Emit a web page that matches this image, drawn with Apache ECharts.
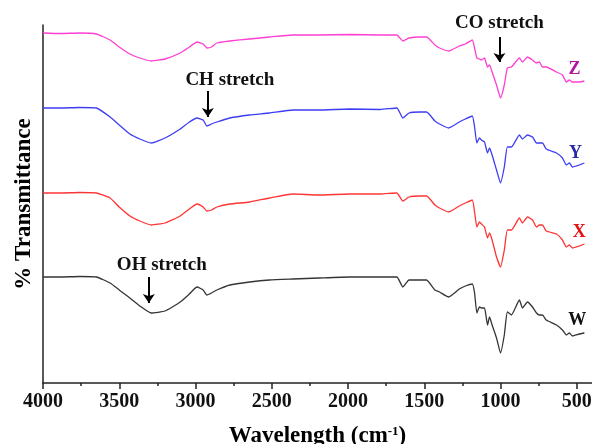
<!DOCTYPE html>
<html>
<head>
<meta charset="utf-8">
<script src="https://cdn.jsdelivr.net/npm/echarts@6/dist/echarts.min.js"></script>
<style>
  html, body { margin: 0; padding: 0; background: #fff; }
  #irChart { width: 592px; height: 444px; }
</style>
</head>
<body>
<div id="irChart"></div>
<script>
// 波数 (cm-1)，四条谱线共用
var waveNumbers = [4000, 3890, 3760, 3650, 3560, 3500, 3430, 3365, 3290, 3200, 3100, 3040, 2990, 2950, 2925, 2895, 2860, 2775, 2645, 2515,
    2360, 2190, 1990, 1790, 1680, 1640, 1600, 1530, 1485, 1430, 1400, 1340, 1270, 1230, 1185, 1170, 1155, 1138, 1125, 1105,
    1085, 1072, 1055, 1026, 1000, 975, 955, 928, 876, 856, 823, 790, 764, 745, 725, 700, 633, 594, 568, 548, 529, 483, 450];

// 透过率 (任意单位，已叠加偏移)
var valuesZ = [350, 349.5, 350, 349, 343, 336, 329, 325, 322, 324, 330, 336, 341, 339, 335, 336, 340, 342, 344, 346,
    348, 348, 348.5, 348, 348, 342, 345, 346, 346, 338, 335, 332, 337, 339, 343, 335, 325, 324, 323, 325,
    316, 318, 311, 298, 285, 298, 315, 316, 325, 321, 326, 323, 320, 321, 316, 316, 311, 308, 301, 303, 301, 301, 302];
var valuesY = [275, 275, 275.5, 275, 266, 258, 249, 244, 240, 245, 254, 261, 265, 263, 257, 259, 261, 265, 268, 270,
    273, 273, 274, 273.5, 275, 265, 270, 271, 271, 262, 259, 255, 261, 264, 267, 256, 240, 245, 243, 241,
    230, 235, 228, 213, 200, 216, 236, 236, 248, 244, 248, 246, 240, 240, 240, 234, 230, 225, 218, 220, 216, 218, 220];
var valuesX = [190, 190, 190.5, 190, 185, 176, 167, 162, 158, 160, 167, 174, 179, 176, 172, 173, 176, 179, 181, 185,
    189, 188, 189, 189, 190, 182, 186, 187, 187, 178, 175, 171, 177, 180, 183, 171, 156, 161, 159, 156,
    145, 150, 143, 126, 116, 133, 153, 153, 165, 160, 166, 163, 156, 158, 158, 152, 149, 143, 136, 138, 135, 137, 139];
var valuesW = [106, 106, 106.5, 106, 100, 93, 85, 77, 70, 72, 81, 89, 96, 93, 88, 90, 93, 98, 101, 103,
    104, 105, 106, 106, 106, 96, 103, 103, 103, 93, 91, 86, 94, 97, 99, 90, 70, 76, 75, 75,
    58, 66, 58, 45, 30, 48, 71, 68, 83, 75, 81, 76, 70, 68, 68, 63, 58, 53, 48, 50, 47, 49, 50];

var majorTicks = [4000, 3500, 3000, 2500, 2000, 1500, 1000, 500];
var minorTicks = [3750, 3250, 2750, 2250, 1750, 1250, 750];

// 谱带标注：[文字, 文字位置波数, 文字位置值, 箭头波数, 箭头起点, 箭头终点]
// 文字位置为 null 时写在箭头上方
var bandNotes = {
    Z: ['CO stretch', null, null, 1007, 346, 321],
    Y: ['CH stretch', 2775, 303, 2919, 292, 266],
    W: ['OH stretch', 3221, 118, 3306, 106, 80]
};
// 样品名称位置
var sampleNames = ['Z', 'Y', 'X', 'W'];
var nameCoords = [[515, 314], [508, 230], [483, 151], [496, 63]];
var lineColors = ['#ff3fd2', '#3d3df2', '#ff3434', '#353535'];
var nameColors = ['#b0169c', '#2a2aa8', '#e81010', '#111111'];
var seriesValues = [valuesZ, valuesY, valuesX, valuesW];

var serifFont = "'Liberation Serif', 'Times New Roman', serif";
var irChart = echarts.init(document.getElementById('irChart'));

function toPairs(values) {
    var arr = [];
    for (var i = 0; i < waveNumbers.length; i++) {
        arr.push([waveNumbers[i], values[i]]);
    }
    return arr;
}

function noteLabel(text, extra) {
    var lbl = { show: true, formatter: text, color: '#111', fontSize: 19, fontWeight: 'bold', fontFamily: serifFont };
    for (var k in extra) {
        lbl[k] = extra[k];
    }
    return lbl;
}

var series = [];
for (var i = 0; i < sampleNames.length; i++) {
    var key = sampleNames[i];
    var points = [{
        coord: nameCoords[i],
        symbol: 'circle',
        symbolSize: 0,
        label: {
            show: true, position: 'inside', formatter: key,
            color: nameColors[i], fontSize: 18, fontWeight: 'bold', fontFamily: serifFont
        }
    }];
    var lines = [];
    var note = bandNotes[key];
    if (note) {
        var arrowLabel = { show: false };
        if (note[1] != null) {
            points.push({
                coord: [note[1], note[2]],
                symbol: 'circle',
                symbolSize: 0,
                label: noteLabel(note[0], { position: 'inside' })
            });
        } else {
            arrowLabel = noteLabel(note[0], { position: 'start', distance: 4 });
        }
        lines.push([{ coord: [note[3], note[4]], label: arrowLabel }, { coord: [note[3], note[5]] }]);
    }
    series.push({
        name: key,
        type: 'line',
        data: toPairs(seriesValues[i]),
        showSymbol: false,
        clip: false,
        smooth: 0.15,
        lineStyle: { color: lineColors[i], width: 1.3 },
        itemStyle: { color: lineColors[i] },
        markPoint: { silent: true, animation: false, data: points },
        markLine: {
            silent: true, animation: false,
            symbol: ['none', 'arrow'], symbolSize: 9,
            lineStyle: { color: '#000', width: 2, type: 'solid' },
            data: lines
        }
    });
}

function plainNumber(v) {
    return String(v);
}

var irOption = {
    animation: false,
    grid: { left: 43, right: 0, top: 25, bottom: 61, outerBoundsMode: 'none', containLabel: false },
    xAxis: [{
        type: 'value',
        inverse: true,
        min: 400,
        max: 4000,
        position: 'bottom',
        name: 'Wavelength (cm{sup|-1})',
        nameLocation: 'middle',
        nameGap: 42,
        nameTextStyle: {
            color: '#000', fontSize: 23, fontWeight: 'bold', fontFamily: serifFont,
            rich: { sup: { fontSize: 13, fontWeight: 'bold', fontFamily: serifFont, color: '#000', padding: [0, 0, 10, 0] } }
        },
        axisLine: { lineStyle: { color: '#222', width: 1.5 } },
        axisTick: { show: true, customValues: majorTicks, length: 6, lineStyle: { color: '#222', width: 1.5 } },
        axisLabel: {
            customValues: majorTicks, margin: 9, formatter: plainNumber,
            color: '#111', fontSize: 20, fontWeight: 'bold', fontFamily: serifFont
        },
        splitLine: { show: false }
    }, {
        type: 'value',
        inverse: true,
        min: 400,
        max: 4000,
        position: 'bottom',
        axisLine: { show: false },
        axisTick: { show: true, customValues: minorTicks, length: 3, lineStyle: { color: '#222', width: 1.5 } },
        axisLabel: { show: false },
        splitLine: { show: false }
    }],
    yAxis: {
        type: 'value',
        min: 0,
        max: 358,
        name: '% Transmittance',
        nameLocation: 'middle',
        nameGap: 7,
        nameTextStyle: { color: '#000', fontSize: 23, fontWeight: 'bold', fontFamily: serifFont },
        axisLine: { show: true, lineStyle: { color: '#222', width: 1.5 } },
        axisTick: { show: false },
        axisLabel: { show: false },
        splitLine: { show: false }
    },
    series: series
};

irChart.setOption(irOption);
</script>
</body>
</html>
